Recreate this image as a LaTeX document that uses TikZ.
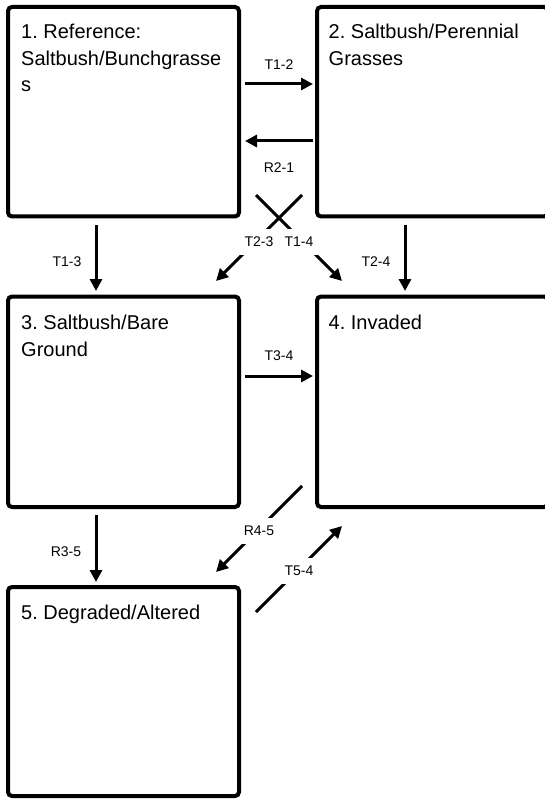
\documentclass[tikz,border=0pt]{standalone}
\usepackage{fontspec}
\setmainfont{Liberation Sans}
\usetikzlibrary{arrows.meta}
\frenchspacing
\begin{document}
\begin{tikzpicture}[x=1pt,y=-1pt,
  sbox/.style={draw, line width=4pt, rounded corners=4pt, inner sep=0pt, outer sep=0pt,
               minimum width=231pt},
  stext/.style={font=\fontsize{20}{26.5}\selectfont, align=left, inner sep=0pt, anchor=base west},
  lbl/.style={font=\fontsize{14}{16}\selectfont, inner sep=0pt},
  lblw/.style={lbl, fill=white, inner sep=8pt},
  arr/.style={line width=3pt, -{Triangle[length=12pt,width=12pt]}}]
\useasboundingbox (0,0) rectangle (545,799);
\clip (0,0) rectangle (545,799);

% boxes
\node[sbox, minimum height=209.5pt] (b1) at (123.5,111.75) {};
\node[sbox, minimum height=209.5pt] (b2) at (432.5,111.75) {};
\node[sbox, minimum height=210.5pt] (b3) at (123.5,401.75) {};
\node[sbox, minimum height=210.5pt] (b4) at (432.5,401.75) {};
\node[sbox, minimum height=209pt] (b5) at (123.5,691.5) {};

% box texts (anchor = baseline of the last line)
\node[stext] (t1) at (21,92) {1. Reference:\\Saltbush/Bunchgrasse\\s};
\node[stext] (t2) at (328.5,65.5) {2. Saltbush/Perennial\\Grasses};
\node[stext] (t3) at (21,356) {3. Saltbush/Bare\\Ground};
\node[stext] (t4) at (328.5,329.5) {4. Invaded};
\node[stext] (t5) at (21,619) {5. Degraded/Altered};

% arrow end points
\coordinate (p12s) at (245,84);  \coordinate (p12e) at (313,84);
\coordinate (p21s) at (313,141); \coordinate (p21e) at (245,141);
\coordinate (p13s) at (96,225);  \coordinate (p13e) at (96,291);
\coordinate (p24s) at (405,225); \coordinate (p24e) at (405,291);
\coordinate (p23s) at (302,195); \coordinate (p23e) at (216,281);
\coordinate (p14s) at (256,195); \coordinate (p14e) at (342,281);
\coordinate (p34s) at (245,376); \coordinate (p34e) at (313,376);
\coordinate (p35s) at (96,515);  \coordinate (p35e) at (96,582);
\coordinate (p45s) at (302,486); \coordinate (p45e) at (216,572);
\coordinate (p54s) at (256,612); \coordinate (p54e) at (342,526);

% connectors
\draw[arr] (p12s) -- (p12e);
\draw[arr] (p21s) -- (p21e);
\draw[arr] (p13s) -- (p13e);
\draw[arr] (p24s) -- (p24e);
\draw[arr] (p23s) -- (p23e);
\draw[arr] (p14s) -- (p14e);
\draw[arr] (p34s) -- (p34e);
\draw[arr] (p35s) -- (p35e);
\draw[arr] (p45s) -- (p45e);
\draw[arr] (p54s) -- (p54e);

% labels
\node[lbl] (l12) at (279,65) {T1-2};
\node[lbl] (l21) at (279,168) {R2-1};
\node[lbl] (l13) at (67,262) {T1-3};
\node[lbl] (l24) at (376,262) {T2-4};
\node[lblw] (l23) at (259,242) {T2-3};
\node[lblw] (l14) at (299,242) {T1-4};
\node[lbl] (l34) at (279,356) {T3-4};
\node[lbl] (l35) at (66,552) {R3-5};
\node[lblw] (l45) at (259,531) {R4-5};
\node[lblw] (l54) at (299,571) {T5-4};
\end{tikzpicture}
\end{document}
